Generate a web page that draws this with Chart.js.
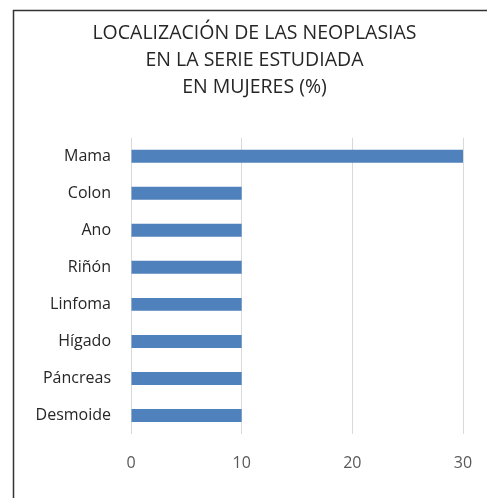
<!doctype html>
<html>
<head>
	<title>Localización de las neoplasias</title>
	<script src="https://cdn.jsdelivr.net/npm/chart.js@4"></script>
	<style>
	html, body { margin: 0; padding: 0; background: #fff; }
	#container { width: 487px; height: 498px; }
	</style>
</head>
<body>
	<div id="container">
		<canvas id="canvas" width="487" height="498"></canvas>
	</div>
	<script>
		var categories = ['Mama', 'Colon', 'Ano', 'Riñón', 'Linfoma', 'Hígado', 'Páncreas', 'Desmoide'];
		var porcentajes = [30, 10, 10, 10, 10, 10, 10, 10];
		var xTicks = [0, 10, 20, 30];
		var titleLines = ['LOCALIZACIÓN DE LAS NEOPLASIAS', 'EN LA SERIE ESTUDIADA', 'EN MUJERES (%)'];

		// outer frame like the Excel chart area
		var framePlugin = {
			id: 'frame',
			afterDraw: function(chart) {
				var ctx = chart.ctx;
				ctx.save();
				ctx.strokeStyle = '#333333';
				ctx.lineWidth = 1.5;
				ctx.strokeRect(13.5, 10.5, 490, 500);
				ctx.restore();
			}
		};

		window.onload = function() {
			var ctx = document.getElementById('canvas').getContext('2d');
			window.myBar = new Chart(ctx, {
				type: 'bar',
				data: {
					labels: categories,
					datasets: [{
						data: porcentajes,
						backgroundColor: '#4f81bd',
						barPercentage: 0.7,
						categoryPercentage: 0.5
					}]
				},
				plugins: [framePlugin],
				options: {
					indexAxis: 'y',
					responsive: false,
					animation: false,
					layout: { padding: { left: 22, right: 0, top: 0, bottom: 0 } },
					plugins: {
						legend: { display: false },
						tooltip: { enabled: false },
						title: {
							display: true,
							text: titleLines,
							color: '#262626',
							font: { family: 'Open Sans', size: 19.5, weight: 'normal', lineHeight: 1.38 },
							padding: { top: 20, bottom: 37 }
						}
					},
					scales: {
						x: {
							min: 0,
							max: 30,
							afterBuildTicks: function(scale) {
								scale.ticks = xTicks.map(function(v) { return { value: v }; });
							},
							afterFit: function(scale) {
								scale.height = 64;
								scale.paddingLeft = 0;
								scale.paddingRight = 0;
							},
							border: { display: false },
							grid: { color: '#d9d9d9', lineWidth: 1, drawTicks: false },
							ticks: {
								color: '#595959',
								padding: 20,
								font: { family: 'Open Sans', size: 16 }
							}
						},
						y: {
							afterFit: function(scale) { scale.width = 109; },
							border: { display: false },
							grid: { display: false, drawTicks: false },
							ticks: {
								color: '#262626',
								padding: 20,
								font: { family: 'Open Sans', size: 16 }
							}
						},
						yRight: {
							position: 'right',
							afterFit: function(scale) { scale.width = 24; },
							border: { display: false },
							grid: { display: false, drawTicks: false },
							ticks: { display: false }
						}
					}
				}
			});
		};
	</script>
</body>
</html>
